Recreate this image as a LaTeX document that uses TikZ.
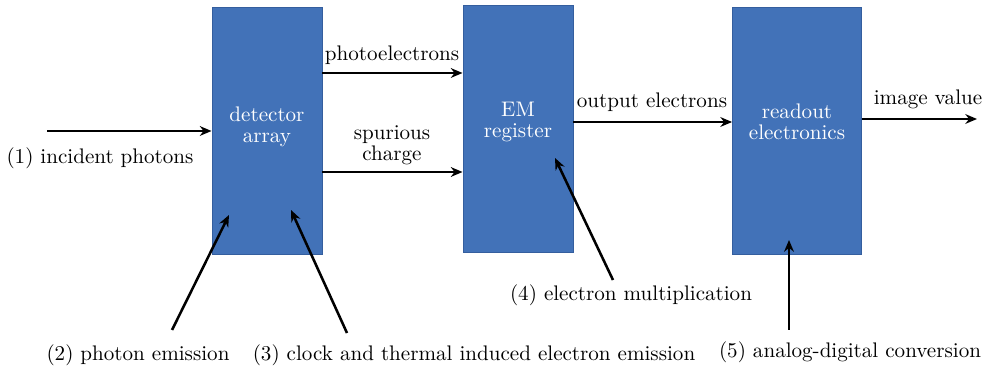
\documentclass[tikz,border=0pt]{standalone}
\usetikzlibrary{arrows.meta, positioning}
\definecolor{boxfill}{RGB}{66,114,184}
\definecolor{boxstroke}{RGB}{52,94,158}
\definecolor{textdark}{RGB}{0,0,0}
\newcommand{\labelfont}{\fontsize{10.8}{10.6}\selectfont}
\tikzset{
  block/.style={
    rectangle,
    minimum width=#1, minimum height=4.46cm,
    align=center,
    draw=boxstroke, fill=boxfill, line width=0.5pt,
    text=white, font=\labelfont
  },
  block/.default=1.98cm,
  label/.style={font=\labelfont, text=textdark, align=center, inner sep=1pt},
  blocktext/.style={font=\labelfont, text=white, align=center, inner sep=1pt},
  arrow/.style={-{Stealth[length=6pt,width=5pt]}, line width=1.3pt, color=black},
}

\begin{document}
\begin{tikzpicture}[x=0.018cm, y=-0.018cm]
\useasboundingbox (0,0) rectangle (990,372);

%% ─── BLOCKS ─────────────────────────────────────────────────
\node[block] (det) at (267,131) {};
\node[block] (em)  at (518,129) {};
\node[block=2.32cm] (ro) at (797,131) {};
\node[blocktext] (dettxt) at (267,127) {detector\\array};
\node[blocktext] (emtxt)  at (518,122) {EM\\register};
\node[blocktext] (rotxt)  at (797,122) {readout\\electronics};

%% ─── HORIZONTAL FLOW ────────────────────────────────────────
\coordinate (inphot) at (47,131);
\node[label] (lblin) at (100,158) {(1) incident photons};
\draw[arrow] (inphot) -- (det.west);

\coordinate (pe) at (0,73);
\node[label] (lblpe) at (392,55) {photoelectrons};
\draw[arrow] (det.east |- pe) -- (em.west |- pe);

\coordinate (sc) at (0,172);
\node[label] (lblsc) at (392,145) {spurious\\charge};
\draw[arrow] (det.east |- sc) -- (em.west |- sc);

\coordinate (oe) at (0,122);
\node[label] (lbloe) at (652,102) {output electrons};
\draw[arrow] (em.east |- oe) -- (ro.west |- oe);

\coordinate (imgv) at (977,119);
\node[label] (lbliv) at (928,99) {image value};
\draw[arrow] (ro.east |- imgv) -- (imgv);

%% ─── NOISE SOURCES ──────────────────────────────────────────
\coordinate (pemit) at (172,330);
\coordinate (pemitend) at (229,215);
\node[label] (lbl2) at (138,355) {(2) photon emission};
\draw[arrow] (pemit) -- (pemitend);

\coordinate (clk) at (347,333);
\coordinate (clkend) at (291,210);
\node[label] (lbl3) at (474,355) {(3) clock and thermal induced electron emission};
\draw[arrow] (clk) -- (clkend);

\coordinate (mult) at (613,280);
\coordinate (multend) at (555,158);
\node[label] (lbl4) at (631,295) {(4) electron multiplication};
\draw[arrow] (mult) -- (multend);

\coordinate (adc) at (789,330);
\node[label] (lbl5) at (850,352) {(5) analog-digital conversion};
\draw[arrow] (adc) -- (adc |- 0,240);

\end{tikzpicture}
\end{document}
